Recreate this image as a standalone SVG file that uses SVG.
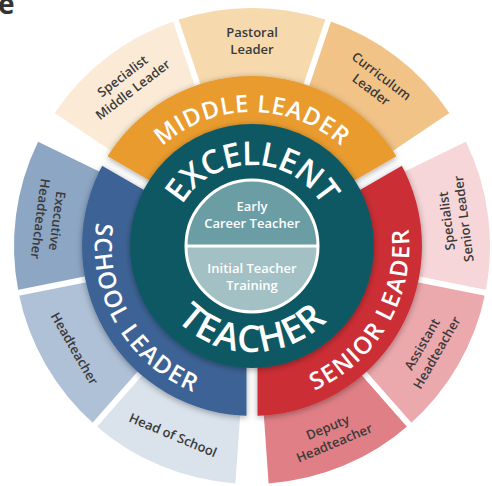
<svg xmlns="http://www.w3.org/2000/svg" width="492" height="486" viewBox="0 0 492 486">
<defs>
<style>
.lbl{font-family:"Open Sans","Noto Sans",sans-serif;font-size:13px;font-weight:600;fill:#3a3a3a;text-anchor:middle}
.ring{font-family:"Open Sans","Noto Sans",sans-serif;font-weight:600;fill:#fff;text-anchor:middle}
.core{font-family:"Open Sans","Noto Sans",sans-serif;font-size:13px;font-weight:600;fill:#fff;text-anchor:middle}
.gap{stroke:#fff;stroke-width:6;fill:none}
</style>
<filter id="sh" x="-20%" y="-20%" width="140%" height="140%">
<feDropShadow dx="0" dy="1.5" stdDeviation="3" flood-color="#000" flood-opacity="0.35"/>
</filter>
<mask id="mgap" maskUnits="userSpaceOnUse" x="0" y="0" width="492" height="486">
<rect width="492" height="486" fill="#fff"/>
<path d="M252,246 L91.79,153.5 M252,246 L412.21,153.5 M252,246 L252,431" stroke="#000" stroke-width="11"/>
</mask>
<path id="pEx" d="M171,246 A81,81 0 0 1 333,246"/>
<path id="pTe" d="M146,246 A106,106 0 0 0 358,246"/>
<path id="pMi" d="M118,246 A134,134 0 0 1 386,246"/>
<path id="pSe" d="M173,382.83 A158,158 0 0 0 331,109.17"/>
<path id="pSc" d="M173,109.17 A158,158 0 0 0 331,382.83"/>
</defs>
<rect width="492" height="486" fill="#fff"/>
<text x="-2" y="14" font-family="Open Sans, sans-serif" font-size="28" font-weight="700" fill="#333">e</text>

<g id="outer-ring">
<g id="specialist-middle-leader">
<path d="M54.70,112.91 A238,238 0 0 1 175.82,20.52 L203.98,103.89 A150,150 0 0 0 127.65,162.12 Z" fill="#FBEBD6"/>
<g transform="translate(127.77,82.92) rotate(-37.33)"><text class="lbl" y="-4">Specialist</text><text class="lbl" y="13">Middle Leader</text></g>
</g>
<g id="pastoral-leader">
<path d="M175.82,20.52 A238,238 0 0 1 328.18,20.52 L300.02,103.89 A150,150 0 0 0 203.98,103.89 Z" fill="#F7D9AE"/>
<g transform="translate(252,41)"><text class="lbl" y="-4">Pastoral</text><text class="lbl" y="13">Leader</text></g>
</g>
<g id="curriculum-leader">
<path d="M328.18,20.52 A238,238 0 0 1 449.30,112.91 L376.35,162.12 A150,150 0 0 0 300.02,103.89 Z" fill="#F2C387"/>
<g transform="translate(376.23,82.92) rotate(37.33)"><text class="lbl" y="-4">Curriculum</text><text class="lbl" y="13">Leader</text></g>
</g>
<g id="specialist-senior-leader">
<path d="M465.91,141.66 A238,238 0 0 1 485.36,292.77 L399.08,275.48 A150,150 0 0 0 386.82,180.24 Z" fill="#F6D6D8"/>
<g transform="translate(455.32,219.84) rotate(-97.33)"><text class="lbl" y="-4">Specialist</text><text class="lbl" y="13">Senior Leader</text></g>
</g>
<g id="assistant-headteacher">
<path d="M485.36,292.77 A238,238 0 0 1 409.18,424.71 L351.06,358.64 A150,150 0 0 0 399.08,275.48 Z" fill="#EBA9AD"/>
<g transform="translate(429.54,348.5) rotate(-60)"><text class="lbl" y="-4">Assistant</text><text class="lbl" y="13">Headteacher</text></g>
</g>
<g id="deputy-headteacher">
<path d="M409.18,424.71 A238,238 0 0 1 268.61,483.43 L262.47,395.64 A150,150 0 0 0 351.06,358.64 Z" fill="#E07F86"/>
<g transform="translate(331.01,435.17) rotate(-22.67)"><text class="lbl" y="-4">Deputy</text><text class="lbl" y="13">Headteacher</text></g>
</g>
<g id="head-of-school">
<path d="M235.39,483.43 A238,238 0 0 1 94.82,424.71 L152.94,358.64 A150,150 0 0 0 241.53,395.64 Z" fill="#DAE2EC"/>
<g transform="translate(172.99,435.17) rotate(22.67)"><text class="lbl" y="4.5">Head of School</text></g>
</g>
<g id="headteacher">
<path d="M94.82,424.71 A238,238 0 0 1 18.64,292.77 L104.92,275.48 A150,150 0 0 0 152.94,358.64 Z" fill="#AFC1D7"/>
<g transform="translate(74.46,348.5) rotate(60)"><text class="lbl" y="4.5">Headteacher</text></g>
</g>
<g id="executive-headteacher">
<path d="M18.64,292.77 A238,238 0 0 1 38.09,141.66 L117.18,180.24 A150,150 0 0 0 104.92,275.48 Z" fill="#8CA6C4"/>
<g transform="translate(48.68,219.84) rotate(97.33)"><text class="lbl" y="-4">Executive</text><text class="lbl" y="13">Headteacher</text></g>
</g>
<path class="gap" d="M203.98,103.89 L173.58,13.89 M300.02,103.89 L330.42,13.89 M399.08,275.48 L492.22,294.14 M351.06,358.64 L413.80,429.97 M152.94,358.64 L90.20,429.97 M104.92,275.48 L11.78,294.14"/>
</g>

<g id="middle-ring" filter="url(#sh)">
<g mask="url(#mgap)">
<path id="middle-leader" d="M104.78,161 A170,170 0 0 1 399.22,161 L351.59,188.5 A115,115 0 0 0 152.41,188.5 Z" fill="#E99B2E"/>
<path id="senior-leader" d="M399.22,161 A170,170 0 0 1 252,416 L252,361 A115,115 0 0 0 351.59,188.5 Z" fill="#CC2D36"/>
<path id="school-leader" d="M252,416 A170,170 0 0 1 104.78,161 L152.41,188.5 A115,115 0 0 0 252,361 Z" fill="#3C6496"/>
</g>
</g>
<g id="middle-ring-labels">
<text class="ring" font-size="24" letter-spacing="0.8"><textPath href="#pMi" startOffset="50%">MIDDLE LEADER</textPath></text>
<text class="ring" font-size="24" letter-spacing="1.5"><textPath href="#pSe" startOffset="50%">SENIOR LEADER</textPath></text>
<text class="ring" font-size="24" letter-spacing="1.5"><textPath href="#pSc" startOffset="50%">SCHOOL LEADER</textPath></text>
</g>

<g id="excellent-teacher">
<circle cx="252" cy="246" r="122" fill="#0C5964" filter="url(#sh)"/>
<text class="ring" font-size="33" letter-spacing="-1"><textPath href="#pEx" startOffset="50%">EXCELLENT</textPath></text>
<text class="ring" font-size="37" letter-spacing="1"><textPath href="#pTe" startOffset="50%">TEACHER</textPath></text>
</g>

<g id="core">
<g id="early-career-teacher">
<path d="M186,246 A66,66 0 0 1 318,246 Z" fill="#6B9DA5"/>
<text class="core" x="252" y="211">Early</text>
<text class="core" x="252" y="228">Career Teacher</text>
</g>
<g id="initial-teacher-training">
<path d="M186,246 A66,66 0 0 0 318,246 Z" fill="#A3C1C5"/>
<text class="core" x="252" y="273">Initial Teacher</text>
<text class="core" x="252" y="290">Training</text>
</g>
<circle cx="252" cy="246" r="66" fill="none" stroke="#fff" stroke-width="3"/>
<line x1="186" y1="246" x2="318" y2="246" stroke="#fff" stroke-width="3"/>
</g>
</svg>
